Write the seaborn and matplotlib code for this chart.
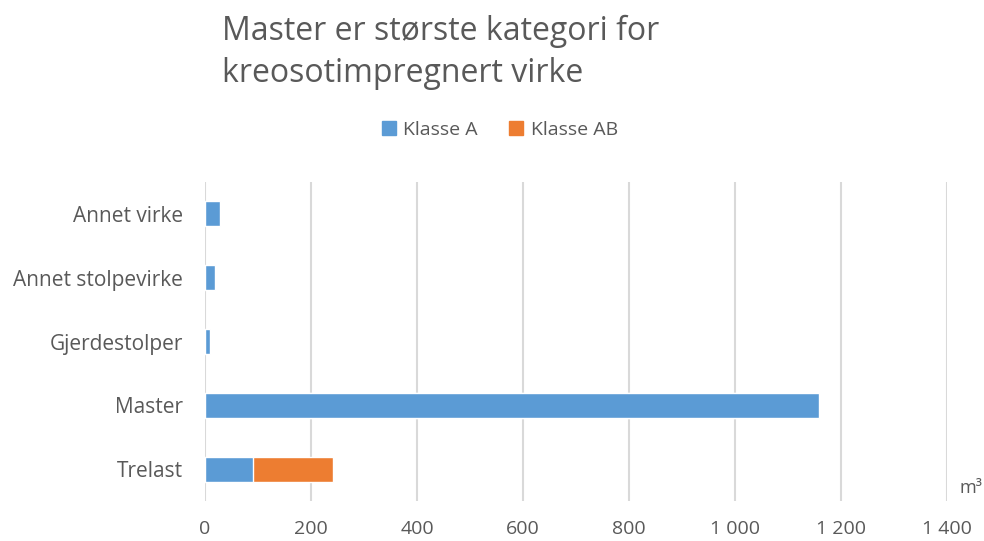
import pandas as pd
import numpy as np
import matplotlib
matplotlib.use('Agg')
import matplotlib.pyplot as plt
import seaborn as sns
from matplotlib.patches import Patch

# Data
categories = ['Annet virke', 'Annet stolpevirke', 'Gjerdestolper', 'Master', 'Trelast']
klasse_a = [29, 19, 9, 1159, 91]
klasse_ab = [0, 0, 0, 0, 151]

df = pd.DataFrame({'Kategori': categories, 'Klasse A': klasse_a, 'Klasse AB': klasse_ab})
df['Total'] = df['Klasse A'] + df['Klasse AB']

blue = '#5B9BD5'
orange = '#ED7D31'
grey = '#595959'

sns.set_style('white')
plt.rcParams['font.family'] = ['Open Sans', 'DejaVu Sans']

fig = plt.figure(figsize=(9.84, 5.41), dpi=100)
ax = fig.add_axes([0.2083, 0.0739, 0.7541, 0.5897])

# stacked: total in orange first, Klasse A on top in blue
sns.barplot(data=df, y='Kategori', x='Total', color=orange, orient='h',
            width=0.39, ax=ax, saturation=1, zorder=3)
sns.barplot(data=df, y='Kategori', x='Klasse A', color=blue, orient='h',
            width=0.39, ax=ax, saturation=1, zorder=4)

ax.set_xlim(0, 1400)
ax.set_ylim(4.5, -0.5)
ax.set_xticks(np.arange(0, 1401, 200))
ax.set_xticklabels([f'{v:,}'.replace(',', ' ') for v in range(0, 1401, 200)])
ax.grid(axis='x', color='#D9D9D9', linewidth=1.5, zorder=0)
ax.set_axisbelow(True)
for s in ax.spines.values():
    s.set_visible(False)
ax.set_xlabel('')
ax.set_ylabel('')
ax.tick_params(axis='both', length=0, labelsize=14, colors=grey)
ax.tick_params(axis='y', pad=16, labelsize=15)
ax.tick_params(axis='x', pad=14)

fig.text(0.2256, 0.972, 'Master er største kategori for\nkreosotimpregnert virke',
         fontsize=23, color=grey, ha='left', va='top', linespacing=1.35)

handles = [Patch(color=blue, label='Klasse A'), Patch(color=orange, label='Klasse AB')]
fig.legend(handles=handles, loc='center', bbox_to_anchor=(0.508, 0.76), ncol=2,
           frameon=False, fontsize=14, labelcolor=grey, handlelength=0.7,
           handleheight=0.7, handletextpad=0.4, columnspacing=1.6)

fig.text(0.975, 0.098, 'm³', fontsize=13, color=grey, ha='left', va='center')

fig.savefig('out.png', dpi=100)
